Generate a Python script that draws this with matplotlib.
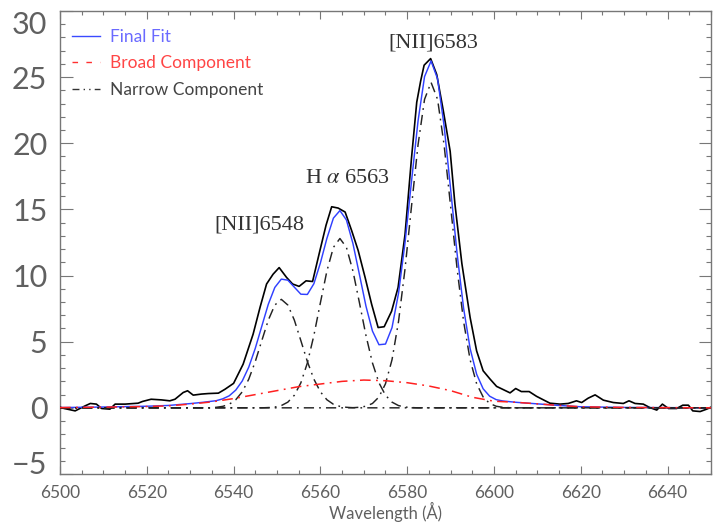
import matplotlib
matplotlib.use("Agg")
import matplotlib.pyplot as plt
from matplotlib.ticker import MultipleLocator
from matplotlib.lines import Line2D
import matplotlib.transforms as mtransforms

# ---- observed spectrum (wavelength, flux) ----
obs_wave = [6500.0, 6501.0, 6503.5, 6505.8, 6507.0, 6508.4, 6509.6, 6511.5, 6512.7, 6515.0,
            6518.0, 6519.0, 6521.0, 6523.4, 6525.3, 6526.5, 6528.4, 6529.4, 6530.7, 6532.6,
            6534.2, 6536.5, 6538.0, 6540.0, 6542.2, 6544.5, 6546.1, 6547.6, 6549.1, 6550.5,
            6552.2, 6553.6, 6555.1, 6556.7, 6558.2, 6559.9, 6561.3, 6562.6, 6564.1, 6565.7,
            6567.2, 6568.7, 6570.3, 6571.8, 6573.3, 6574.7, 6576.4, 6577.9, 6579.5, 6581.0,
            6582.2, 6583.1, 6583.9, 6585.4, 6586.8, 6588.3, 6589.9, 6591.0, 6592.6, 6594.5,
            6596.0, 6597.5, 6599.1, 6600.6, 6602.0, 6603.7, 6605.0, 6606.3, 6608.1, 6609.8,
            6611.4, 6612.9, 6615.2, 6617.1, 6619.0, 6620.2, 6621.7, 6623.3, 6625.2, 6627.5,
            6629.8, 6631.1, 6632.5, 6634.4, 6635.9, 6637.5, 6638.8, 6640.2, 6642.1, 6643.5,
            6644.8, 6645.8, 6647.5, 6649.0, 6650.2]
obs_flux = [0.05, -0.05, -0.23, 0.15, 0.33, 0.28, -0.05, -0.10, 0.28, 0.28,
            0.35, 0.48, 0.65, 0.60, 0.53, 0.65, 1.16, 1.29, 0.96, 1.04,
            1.08, 1.11, 1.40, 1.85, 3.30, 5.57, 7.60, 9.36, 10.10, 10.60,
            9.86, 9.36, 9.18, 9.60, 9.55, 11.90, 13.80, 15.20, 15.10, 14.80,
            13.40, 11.90, 9.86, 7.84, 6.07, 6.13, 7.30, 9.10, 13.10, 18.90,
            23.10, 24.70, 25.90, 26.40, 25.20, 22.50, 19.40, 15.40, 10.90, 6.83,
            4.30, 2.80, 2.17, 1.62, 1.40, 1.13, 1.46, 1.23, 1.23, 0.87,
            0.60, 0.35, 0.28, 0.33, 0.53, 0.40, 0.73, 0.98, 0.58, 0.40,
            0.33, 0.53, 0.33, 0.28, 0.02, -0.17, 0.28, -0.05, -0.05, 0.20,
            0.20, -0.23, -0.28, -0.10, 0.08]

# ---- model grid in the line region ----
grid_wave = [6536.0, 6537.5, 6539.0, 6540.5, 6542.0, 6543.5, 6545.0, 6546.5, 6548.0, 6549.5,
             6551.0, 6552.5, 6554.0, 6555.5, 6557.0, 6558.5, 6560.0, 6561.5, 6563.0, 6564.5,
             6566.0, 6567.5, 6569.0, 6570.5, 6572.0, 6573.5, 6575.0, 6576.5, 6578.0, 6579.5,
             6581.0, 6582.5, 6584.0, 6585.5, 6587.0, 6588.5, 6590.0, 6591.5, 6593.0, 6594.5,
             6596.0, 6597.5, 6599.0, 6600.5]

# final fit (total model)
fit_wave = [6500.0, 6510.0, 6520.0, 6525.0, 6530.0, 6533.0] + grid_wave + \
           [6602.0, 6605.0, 6610.0, 6615.0, 6620.0, 6630.0, 6650.0]
fit_flux = [0.02, 0.06, 0.12, 0.18, 0.32, 0.42,
            0.54, 0.68, 0.91, 1.34, 2.03, 3.08, 4.50, 6.17, 7.83, 9.10,
            9.73, 9.65, 9.12, 8.59, 8.57, 9.38, 10.95, 12.81, 14.34, 14.91,
            14.20, 12.42, 10.07, 7.69, 5.80, 4.77, 4.82, 6.06, 8.65, 12.48,
            17.14, 21.68, 25.04, 26.22, 24.87, 21.33, 16.55, 11.65, 7.52, 4.48,
            2.54, 1.44, 0.88, 0.62,
            0.52, 0.42, 0.30, 0.18, 0.08, 0.03, 0.0]

# broad component
broad_wave = [6500, 6510, 6520, 6525, 6530, 6535, 6540, 6545, 6550, 6555, 6560, 6565,
              6570, 6575, 6580, 6585, 6590, 6595, 6600, 6605, 6610, 6615, 6620, 6630, 6650]
broad_flux = [0.02, 0.05, 0.10, 0.15, 0.28, 0.45, 0.70, 1.00, 1.30, 1.60, 1.80, 2.00,
              2.10, 2.05, 1.90, 1.65, 1.30, 0.80, 0.50, 0.42, 0.30, 0.18, 0.08, 0.03, 0.0]

# narrow components
n6548_wave = [6500.0, 6534.5] + grid_wave[:22] + [6569.0, 6650.0]
n6548_flux = [0.0, 0.0,
              0.04, 0.11, 0.27, 0.61, 1.21, 2.17, 3.50, 5.08, 6.63, 7.77,
              8.20, 7.77, 6.63, 5.08, 3.50, 2.17, 1.21, 0.61, 0.27, 0.11,
              0.04, 0.01, 0.0, 0.0]
nha_wave = [6500.0, 6546.5] + grid_wave[8:31] + [6582.5, 6650.0]
nha_flux = [0.0, 0.0,
            0.02, 0.06, 0.17, 0.43, 0.95, 1.89, 3.39, 5.47, 7.94, 10.34,
            12.13, 12.80, 12.13, 10.34, 7.94, 5.47, 3.39, 1.89, 0.95, 0.43,
            0.17, 0.06, 0.02, 0.0, 0.0]
n6583_wave = [6500.0, 6566.0] + grid_wave[21:] + [6602.0, 6603.5, 6605.0, 6650.0]
n6583_flux = [0.0, 0.0,
              0.01, 0.04, 0.12, 0.33, 0.82, 1.82, 3.63, 6.52, 10.50, 15.25,
              19.88, 23.32, 24.60, 23.32, 19.88, 15.25, 10.50, 6.52, 3.63, 1.82,
              0.82, 0.33, 0.12, 0.04, 0.01, 0.0, 0.0]

line_labels = ["[NII]6548", "H $\\alpha$ 6563", "[NII]6583"]
label_pos = [(6546.0, 13.8), (6566.3, 17.3), (6586.0, 27.6)]

legend_labels = ["Final Fit", "Broad Component", "Narrow Component"]
legend_colors = ["#6a6aff", "#ff4545", "#444444"]

xticks = list(range(6500, 6641, 20))
yticks = list(range(-5, 31, 5))

# ---- figure ----
plt.rcParams['mathtext.fontset'] = 'stix'
thin = ['Lato', 'DejaVu Sans']
fig = plt.figure(figsize=(7.14, 5.22), dpi=100)
ax = fig.add_axes([0.0840, 0.0920, 0.9118, 0.8870])

ax.plot(obs_wave, obs_flux, color='black', lw=1.2, zorder=3)
ax.plot(fit_wave, fit_flux, color='#3040ff', lw=1.05, zorder=4)
dd = (0, (7, 3.5, 1.2, 3.5))
for w, f in [(n6548_wave, n6548_flux), (nha_wave, nha_flux), (n6583_wave, n6583_flux)]:
    ax.plot(w, f, color='#222222', lw=1.05, linestyle=dd, zorder=5)
ax.plot(broad_wave, broad_flux, color='#ff2020', lw=1.1, linestyle=dd, zorder=6)

for txt, (xx, yy) in zip(line_labels, label_pos):
    ax.text(xx, yy, txt, ha='center', va='center', fontsize=16,
            family='Liberation Serif', color='#333333')

ax.set_xlim(6500, 6650)
ax.set_ylim(-5, 30)
ax.set_xticks(xticks)
ax.set_yticks(yticks)
ax.xaxis.set_minor_locator(MultipleLocator(5))
ax.yaxis.set_minor_locator(MultipleLocator(1))
ax.set_yticklabels([str(v).replace('-', '\u2212') for v in yticks], family=thin)
ax.set_xticklabels([str(v) for v in xticks], family=thin)

gray = '#777777'
ax.tick_params(which='both', direction='in', top=True, right=True, color=gray, width=0.8)
ax.tick_params(axis='x', which='major', length=6, pad=8, labelsize=12.5, labelcolor='#606060')
ax.tick_params(axis='x', which='minor', length=3)
ax.tick_params(axis='y', which='major', length=9, pad=9, labelsize=22, labelcolor='#606060')
ax.tick_params(axis='y', which='minor', length=3.6)
for sp in ax.spines.values():
    sp.set_color(gray)
    sp.set_linewidth(1.0)

ylabs = ax.get_yticklabels()
off_down = mtransforms.ScaledTranslation(0, -12 / 100, fig.dpi_scale_trans)
off_up = mtransforms.ScaledTranslation(0, 11 / 100, fig.dpi_scale_trans)
ylabs[-1].set_transform(ylabs[-1].get_transform() + off_down)
ylabs[0].set_transform(ylabs[0].get_transform() + off_up)

ax.set_xlabel("Wavelength (Å)", fontsize=12, color='#606060', labelpad=1, family=thin)

handles = [Line2D([], [], color='#3a4aff', lw=1.0),
           Line2D([], [], color='#ff3030', lw=1.0, linestyle=(0, (4, 6))),
           Line2D([], [], color='#333333', lw=1.0, linestyle=(0, (5, 3, 1, 3, 1, 3)))]
leg = ax.legend(handles, legend_labels, loc='upper left', bbox_to_anchor=(0.0, 0.988),
                borderaxespad=0.3, frameon=False, prop={'family': thin, 'size': 12.5},
                handlelength=1.6, handletextpad=0.6,
                labelspacing=0.62, labelcolor=legend_colors)

fig.savefig("out.png", dpi=100)
